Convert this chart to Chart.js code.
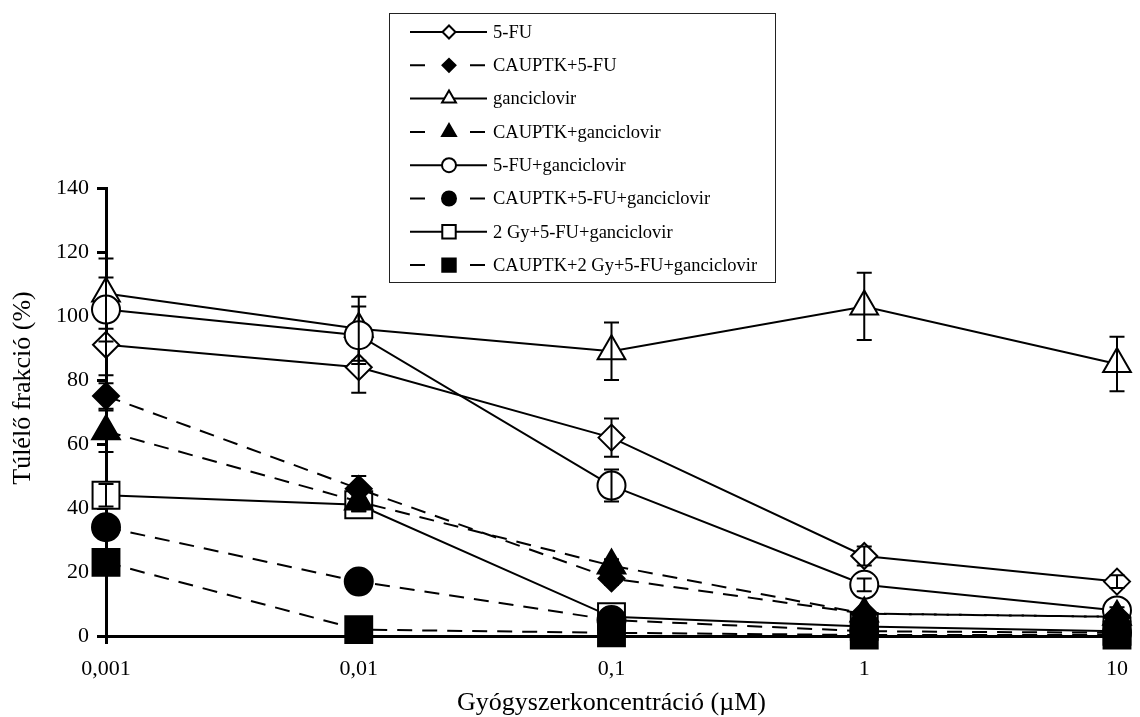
<!DOCTYPE html>
<html>
<head>
<meta charset="utf-8">
<title>Túlélő frakció</title>
<script src="https://cdn.jsdelivr.net/npm/chart.js@4"></script>
<style>
  body { margin: 0; background: #fff; }
  canvas { display: block; }
</style>
</head>
<body>
<canvas id="myChart" width="1140" height="717"></canvas>
<script>
// concentrations (µM) and survival (%)
var concentrations = ['0,001', '0,01', '0,1', '1', '10'];
var yTicks = [0, 20, 40, 60, 80, 100, 120, 140];

var fu            = [91, 84, 62, 25, 17];
var cauptkFu      = [75, 46, 18, 7, 6];
var gcv           = [107, 96, 89, 103, 85];
var cauptkGcv     = [64, 42, 22, 7, 6];
var fuGcv         = [102, 94, 47, 16, 8];
var cauptkFuGcv   = [34, 17, 5, 1.5, 1];
var gyFuGcv       = [44, 41, 6, 3, 1.5];
var cauptkGyFuGcv = [23, 2, 1, 0.3, 0.3];

// +/- error (%)
var fuErr            = [9.5, 8, 6, 3, 2];
var cauptkFuErr      = [4, 4, 2, 1, 1];
var gcvErr           = [11, 10, 9, 10.5, 8.5];
var cauptkGcvErr     = [6.5, 3, 2, 1, 1];
var fuGcvErr         = [10, 9, 5, 2, 1];
var cauptkFuGcvErr   = [2, 2, 1, 1, 1];
var gyFuGcvErr       = [3.5, 2, 1, 1, 1];
var cauptkGyFuGcvErr = [1, 1, 1, 0.5, 0.5];

var labels = ['5-FU', 'CAUPTK+5-FU', 'ganciclovir', 'CAUPTK+ganciclovir',
  '5-FU+ganciclovir', 'CAUPTK+5-FU+ganciclovir', '2 Gy+5-FU+ganciclovir',
  'CAUPTK+2 Gy+5-FU+ganciclovir'];
var values = [fu, cauptkFu, gcv, cauptkGcv, fuGcv, cauptkFuGcv, gyFuGcv, cauptkGyFuGcv];
var errors = [fuErr, cauptkFuErr, gcvErr, cauptkGcvErr, fuGcvErr, cauptkFuGcvErr, gyFuGcvErr, cauptkGyFuGcvErr];
var styles = ['rectRot', 'rectRot', 'triangle', 'triangle', 'circle', 'circle', 'rect', 'rect'];
var sizes = { rectRot: 13, triangle: 16, circle: 14, rect: 19 };

var FONT = '"Liberation Serif", "Times New Roman", serif';
Chart.defaults.font.family = FONT;
Chart.defaults.color = '#000';

var datasets = labels.map(function (lab, i) {
  var filled = i % 2 === 1;
  return {
    label: lab,
    data: values[i],
    errors: errors[i],
    borderColor: '#000',
    borderWidth: 2,
    borderDash: filled ? [15, 10] : [],
    pointStyle: styles[i],
    pointRadius: sizes[styles[i]],
    pointBackgroundColor: filled ? '#000' : '#fff',
    pointBorderColor: '#000',
    pointBorderWidth: 2,
    tension: 0,
    fill: false,
    clip: false,
    // open series underneath, filled ones on top
    order: (filled ? 10 : 20) - i
  };
});

function drawMarker(ctx, style, x, y, r) {
  ctx.beginPath();
  if (style === 'circle') {
    ctx.arc(x, y, r, 0, Math.PI * 2);
  } else if (style === 'rect') {
    var s = r * Math.SQRT1_2;
    ctx.rect(x - s, y - s, 2 * s, 2 * s);
  } else if (style === 'rectRot') {
    ctx.moveTo(x - r, y); ctx.lineTo(x, y - r); ctx.lineTo(x + r, y); ctx.lineTo(x, y + r);
  } else {
    for (var k = 0; k < 3; k++) {
      var a = k * Math.PI * 2 / 3;
      ctx[k ? 'lineTo' : 'moveTo'](x + Math.sin(a) * r, y - Math.cos(a) * r);
    }
  }
  ctx.closePath();
  ctx.fill();
  ctx.stroke();
}

// vertical error bars, drawn right after each series
var errorBars = {
  id: 'errorBars',
  afterDatasetDraw: function (chart, args) {
    var ds = chart.data.datasets[args.index];
    var y = chart.scales.y, ctx = chart.ctx;
    ctx.save();
    ctx.strokeStyle = '#000';
    ctx.lineWidth = 2;
    ctx.setLineDash([]);
    args.meta.data.forEach(function (pt, j) {
      var v = ds.data[j], e = ds.errors[j];
      var top = y.getPixelForValue(v + e), bot = y.getPixelForValue(Math.max(v - e, 0));
      ctx.beginPath();
      ctx.moveTo(pt.x, top); ctx.lineTo(pt.x, bot);
      ctx.moveTo(pt.x - 7.5, top); ctx.lineTo(pt.x + 7.5, top);
      if (v - e > 0) { ctx.moveTo(pt.x - 7.5, bot); ctx.lineTo(pt.x + 7.5, bot); }
      ctx.stroke();
    });
    ctx.restore();
  }
};

// y title sits a little above the middle of the axis in the original
var yTitle = {
  id: 'yTitle',
  afterDraw: function (chart) {
    var ctx = chart.ctx;
    ctx.save();
    ctx.translate(23, 388);
    ctx.rotate(-Math.PI / 2);
    ctx.font = '26px ' + FONT;
    ctx.fillStyle = '#000';
    ctx.textAlign = 'center';
    ctx.textBaseline = 'middle';
    ctx.fillText('Túlélő frakció (%)', 0, 0);
    ctx.restore();
  }
};

// boxed legend: line sample + small marker + name
var boxLegend = {
  id: 'boxLegend',
  afterDraw: function (chart) {
    var ctx = chart.ctx;
    var bx = 389, by = 13, bw = 386, bh = 269;
    ctx.save();
    ctx.fillStyle = '#fff';
    ctx.fillRect(bx, by, bw, bh);
    ctx.strokeStyle = '#222';
    ctx.lineWidth = 1;
    ctx.strokeRect(bx + 0.5, by + 0.5, bw, bh);
    chart.data.datasets.forEach(function (ds, i) {
      var cy = 32 + i * 33.3;
      ctx.strokeStyle = '#000';
      ctx.lineWidth = 2;
      ctx.setLineDash(ds.borderDash.length ? [15, 45] : []);
      ctx.beginPath();
      ctx.moveTo(410, cy); ctx.lineTo(487, cy);
      ctx.stroke();
      ctx.setLineDash([]);
      ctx.fillStyle = ds.pointBackgroundColor;
      drawMarker(ctx, ds.pointStyle, 449, cy, ds.pointRadius / 2);
      ctx.fillStyle = '#000';
      ctx.font = '18.5px ' + FONT;
      ctx.textBaseline = 'middle';
      ctx.textAlign = 'left';
      ctx.fillText(ds.label, 493, cy + 1);
    });
    ctx.restore();
  }
};

var chart = new Chart(document.getElementById("myChart"), {
  type: 'line',
  data: { labels: concentrations, datasets: datasets },
  options: {
    responsive: false,
    animation: false,
    layout: { padding: { top: 188, right: 14, left: 0, bottom: 0 } },
    plugins: { legend: { display: false }, tooltip: { enabled: false } },
    scales: {
      x: {
        offset: false,
        z: 1,
        grid: { drawOnChartArea: false, tickLength: 8, tickWidth: 3, tickColor: '#000' },
        border: { width: 3, color: '#000' },
        ticks: { font: { size: 22 }, padding: 12, maxRotation: 0 },
        title: { display: true, text: 'Gyógyszerkoncentráció (µM)', font: { size: 26 }, padding: { top: 0, bottom: -2 } },
        afterFit: function (s) { s.height = 81; }
      },
      y: {
        min: 0,
        max: 140,
        z: 1,
        grid: { drawOnChartArea: false, tickLength: 9, tickWidth: 3, tickColor: '#000' },
        border: { width: 3, color: '#000' },
        afterBuildTicks: function (s) { s.ticks = yTicks.map(function (v) { return { value: v }; }); },
        ticks: { font: { size: 22 }, padding: 8 },
        afterFit: function (s) { s.width = 106; }
      }
    }
  },
  plugins: [errorBars, yTitle, boxLegend]
});
</script>
</body>
</html>
